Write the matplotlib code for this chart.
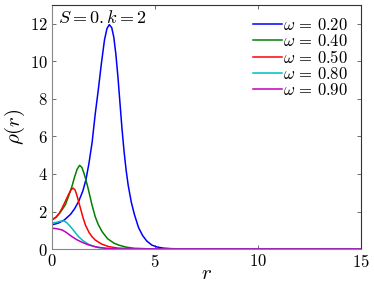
import matplotlib
matplotlib.use("Agg")
import matplotlib.pyplot as plt

plt.rcParams['mathtext.fontset'] = 'cm'
plt.rcParams['font.family'] = ['cmr10', 'DejaVu Serif']
plt.rcParams['axes.formatter.use_mathtext'] = True

labels = [r'$\omega\,=\,0.20$', r'$\omega\,=\,0.40$', r'$\omega\,=\,0.50$', r'$\omega\,=\,0.80$', r'$\omega\,=\,0.90$']
colors = ['#0000ff', '#008000', '#ff0000', '#00bfbf', '#bf00bf']

r_blue = [0, 0.3, 0.6, 0.9, 1.1, 1.3, 1.5, 1.65, 1.8, 1.95, 2.1, 2.25, 2.4, 2.55, 2.67, 2.78, 2.9,
          3.0, 3.1, 3.2, 3.3, 3.4, 3.5, 3.6, 3.7, 3.85, 4.0, 4.2, 4.4, 4.6, 4.85, 5.1, 5.4, 5.8, 6.5, 8, 15]
v_blue = [1.29, 1.38, 1.55, 1.85, 2.15, 2.55, 3.1, 3.7, 4.6, 5.7, 7.2, 8.5, 9.9, 11.15, 11.75, 11.96, 11.8,
          11.3, 10.4, 9.2, 7.8, 6.4, 5.2, 4.2, 3.4, 2.5, 1.85, 1.15, 0.72, 0.43, 0.21, 0.11, 0.05, 0.02, 0.005, 0, 0]

r_green = [0, 0.2, 0.4, 0.65, 0.8, 0.97, 1.1, 1.22, 1.34, 1.45, 1.55, 1.62, 1.75, 1.94, 2.1, 2.25,
           2.43, 2.7, 3.0, 3.24, 3.6, 4.0, 5, 15]
v_green = [1.55, 1.7, 1.95, 2.36, 2.8, 3.34, 3.85, 4.25, 4.46, 4.35, 4.05, 3.79, 3.25, 2.36, 1.72, 1.3,
           0.93, 0.55, 0.32, 0.21, 0.1, 0.04, 0, 0]

r_red = [0, 0.2, 0.35, 0.49, 0.65, 0.8, 0.92, 1.02, 1.12, 1.2, 1.29, 1.4, 1.5, 1.62, 1.8, 1.95, 2.1,
         2.4, 2.75, 3.2, 4, 15]
v_red = [1.55, 1.7, 1.9, 2.18, 2.55, 2.9, 3.15, 3.25, 3.15, 2.9, 2.54, 2.1, 1.7, 1.29, 0.88, 0.65, 0.48,
         0.27, 0.13, 0.05, 0.01, 0]

r_cyan = [0, 0.2, 0.4, 0.57, 0.7, 0.85, 0.97, 1.1, 1.29, 1.5, 1.78, 2.0, 2.27, 2.7, 3.2, 15]
v_cyan = [1.38, 1.42, 1.48, 1.5, 1.42, 1.25, 1.1, 0.92, 0.66, 0.45, 0.25, 0.15, 0.07, 0.03, 0.01, 0]

r_mag = [0, 0.2, 0.49, 0.7, 0.97, 1.2, 1.46, 1.75, 2.1, 2.4, 2.75, 3.3, 15]
v_mag = [1.11, 1.09, 1.02, 0.88, 0.66, 0.5, 0.36, 0.23, 0.125, 0.07, 0.02, 0.005, 0]

xs = [r_blue, r_green, r_red, r_cyan, r_mag]
ys = [v_blue, v_green, v_red, v_cyan, v_mag]

fig = plt.figure(figsize=(3.74, 2.83), dpi=100)
ax = fig.add_axes([0.139, 0.12, 0.826, 0.862])
for x, y, c, l in zip(xs, ys, colors, labels):
    ax.plot(x, y, color=c, lw=1.1, label=l)

ax.set_xlim(0, 15)
ax.set_ylim(0, 13)
ax.set_xticks([0, 5, 10, 15])
ax.set_yticks([0, 2, 4, 6, 8, 10, 12])
ax.tick_params(direction='in', top=True, right=True, length=3, width=0.6,
               labelsize=12, pad=3, colors='#555555', labelcolor='black')
for s in ['left', 'bottom']:
    ax.spines[s].set_color('#888888')
for s in ['top', 'right']:
    ax.spines[s].set_color('#333333')
for s in ax.spines.values():
    s.set_linewidth(0.8)

ax.set_xlabel(r'$r$', fontsize=15, labelpad=-4)
ax.set_ylabel(r'$\rho(r)$', fontsize=15, labelpad=2)
ax.text(0.02, 0.985, r'$S=0. k=2$', transform=ax.transAxes, fontsize=13, va='top', ha='left')

leg = ax.legend(loc='upper right', bbox_to_anchor=(0.97, 0.965), frameon=False, fontsize=12,
                handlelength=1.7, handletextpad=0.1, labelspacing=0.0, borderaxespad=0.0,
                borderpad=0.2)

fig.savefig('out.png', dpi=100)
